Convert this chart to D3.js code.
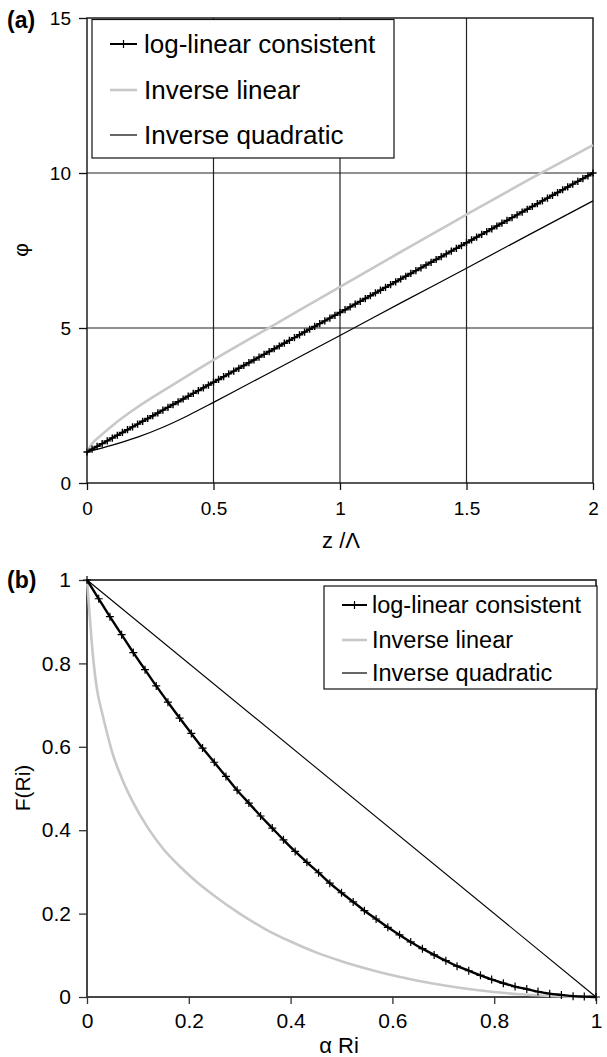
<!DOCTYPE html>
<html>
<head>
<meta charset="utf-8">
<script src="https://cdn.jsdelivr.net/npm/d3@7"></script>
<style>
body { margin: 0; background: #fff; }
svg { font-family: "Liberation Sans", Arial, sans-serif; }
</style>
</head>
<body>
<div id="chart"></div>
<script>
var seriesNames = ["log-linear consistent", "Inverse linear", "Inverse quadratic"];

// panel (a): phi against z / Lambda
var zTicks = [0, 0.5, 1, 1.5, 2];
var phiTicks = [0, 5, 10, 15];

var zLogLin = [0.00, 0.02, 0.04, 0.06, 0.08, 0.10, 0.12, 0.14, 0.16, 0.18,
    0.20, 0.22, 0.24, 0.26, 0.28, 0.30, 0.32, 0.34, 0.36, 0.38,
    0.40, 0.42, 0.44, 0.46, 0.48, 0.50, 0.52, 0.54, 0.56, 0.58,
    0.60, 0.62, 0.64, 0.66, 0.68, 0.70, 0.72, 0.74, 0.76, 0.78,
    0.80, 0.82, 0.84, 0.86, 0.88, 0.90, 0.92, 0.94, 0.96, 0.98,
    1.00, 1.02, 1.04, 1.06, 1.08, 1.10, 1.12, 1.14, 1.16, 1.18,
    1.20, 1.22, 1.24, 1.26, 1.28, 1.30, 1.32, 1.34, 1.36, 1.38,
    1.40, 1.42, 1.44, 1.46, 1.48, 1.50, 1.52, 1.54, 1.56, 1.58,
    1.60, 1.62, 1.64, 1.66, 1.68, 1.70, 1.72, 1.74, 1.76, 1.78,
    1.80, 1.82, 1.84, 1.86, 1.88, 1.90, 1.92, 1.94, 1.96, 1.98, 2.00];
var phiLogLin = [1.00, 1.09, 1.18, 1.27, 1.36, 1.45, 1.54, 1.63, 1.72, 1.81,
    1.90, 1.99, 2.08, 2.17, 2.26, 2.35, 2.44, 2.53, 2.62, 2.71,
    2.80, 2.89, 2.98, 3.07, 3.16, 3.25, 3.34, 3.43, 3.52, 3.61,
    3.70, 3.79, 3.88, 3.97, 4.06, 4.15, 4.24, 4.33, 4.42, 4.51,
    4.60, 4.69, 4.78, 4.87, 4.96, 5.05, 5.14, 5.23, 5.32, 5.41,
    5.50, 5.59, 5.68, 5.77, 5.86, 5.95, 6.04, 6.13, 6.22, 6.31,
    6.40, 6.49, 6.58, 6.67, 6.76, 6.85, 6.94, 7.03, 7.12, 7.21,
    7.30, 7.39, 7.48, 7.57, 7.66, 7.75, 7.84, 7.93, 8.02, 8.11,
    8.20, 8.29, 8.38, 8.47, 8.56, 8.65, 8.74, 8.83, 8.92, 9.01,
    9.10, 9.19, 9.28, 9.37, 9.46, 9.55, 9.64, 9.73, 9.82, 9.91, 10.00];

var zInvLin = [0, 0.01, 0.02, 0.05, 0.1, 0.2, 0.3, 0.4, 0.5, 0.75, 1.0, 1.25, 1.5, 1.75, 2.0];
var phiInvLin = [1.0, 1.15, 1.27, 1.5, 1.85, 2.45, 2.97, 3.47, 3.97, 5.15, 6.33, 7.5, 8.66, 9.8, 10.9];

var zInvQuad = [0, 0.1, 0.2, 0.3, 0.4, 0.5, 0.6, 0.75, 1.0, 1.25, 1.5, 1.75, 2.0];
var phiInvQuad = [1.0, 1.22, 1.48, 1.8, 2.18, 2.6, 3.03, 3.68, 4.76, 5.85, 6.93, 8.02, 9.1];

// panel (b): F(Ri) against alpha Ri
var riTicks = [0, 0.2, 0.4, 0.6, 0.8, 1];
var fTicks = [0, 0.2, 0.4, 0.6, 0.8, 1];

var riLogLin = [0.000, 0.023, 0.045, 0.068, 0.091, 0.114, 0.136, 0.159, 0.182, 0.205,
    0.227, 0.250, 0.273, 0.295, 0.318, 0.341, 0.364, 0.386, 0.409, 0.432,
    0.455, 0.477, 0.500, 0.523, 0.545, 0.568, 0.591, 0.614, 0.636, 0.659,
    0.682, 0.705, 0.727, 0.750, 0.773, 0.795, 0.818, 0.841, 0.864, 0.886,
    0.909, 0.932, 0.955, 0.977, 1.000];
var fLogLin = [1.000, 0.955, 0.912, 0.869, 0.826, 0.785, 0.746, 0.707, 0.669, 0.632,
    0.597, 0.563, 0.529, 0.496, 0.465, 0.434, 0.405, 0.377, 0.349, 0.323,
    0.298, 0.273, 0.250, 0.228, 0.207, 0.187, 0.167, 0.149, 0.132, 0.116,
    0.101, 0.087, 0.074, 0.063, 0.052, 0.042, 0.033, 0.025, 0.019, 0.013,
    0.008, 0.005, 0.002, 0.001, 0.000];

var riInvLin = [0, 0.005, 0.01, 0.015, 0.02, 0.03, 0.04, 0.05, 0.07, 0.09, 0.12, 0.15, 0.18, 0.21,
    0.25, 0.30, 0.35, 0.40, 0.45, 0.50, 0.55, 0.60, 0.65, 0.70, 0.75, 0.80, 0.85, 0.90, 0.95, 1.00];
var fInvLin = [1, 0.92, 0.84, 0.78, 0.735, 0.68, 0.63, 0.585, 0.52, 0.468, 0.405, 0.355, 0.316, 0.282,
    0.243, 0.200, 0.163, 0.133, 0.107, 0.086, 0.068, 0.052, 0.039, 0.028, 0.019, 0.012, 0.0065, 0.003, 0.0008, 0];

var riInvQuad = [0, 1];
var fInvQuad = [1, 0];

var svg = d3.select("#chart").append("svg")
    .attr("width", 607)
    .attr("height", 1057);

function zip(xs, ys) {
    return xs.map(function(x, i) { return [x, ys[i]]; });
}

function drawPanel(cfg) {
    var g = svg.append("g");
    var x = d3.scaleLinear().domain(cfg.xDomain).range([cfg.left, cfg.right]);
    var y = d3.scaleLinear().domain(cfg.yDomain).range([cfg.bottom, cfg.top]);

    if (cfg.grid) {
        g.selectAll("line.vgrid")
            .data(cfg.xTicks.slice(1, -1))
            .enter().append("line")
            .attr("x1", function(d) { return x(d); })
            .attr("x2", function(d) { return x(d); })
            .attr("y1", cfg.top).attr("y2", cfg.bottom)
            .attr("stroke", "#222").attr("stroke-width", 1.2);
        g.selectAll("line.hgrid")
            .data(cfg.yTicks.slice(1, -1))
            .enter().append("line")
            .attr("x1", cfg.left).attr("x2", cfg.right)
            .attr("y1", function(d) { return y(d); })
            .attr("y2", function(d) { return y(d); })
            .attr("stroke", "#222").attr("stroke-width", 1.2);
    }

    // frame
    g.append("rect")
        .attr("x", cfg.left).attr("y", cfg.top)
        .attr("width", cfg.right - cfg.left)
        .attr("height", cfg.bottom - cfg.top)
        .attr("fill", "none")
        .attr("stroke", cfg.frameColor)
        .attr("stroke-width", cfg.frameWidth);

    var yAxis = d3.axisLeft(y)
        .tickValues(cfg.yTicks)
        .tickFormat(d3.format(""))
        .tickSizeInner(8).tickSizeOuter(0)
        .tickPadding(8);
    var xAxis = d3.axisBottom(x)
        .tickValues(cfg.xTicks)
        .tickFormat(d3.format(""))
        .tickSizeInner(7).tickSizeOuter(0)
        .tickPadding(cfg.xPad);

    var ya = g.append("g").attr("transform", "translate(" + cfg.left + ",0)").call(yAxis);
    var xa = g.append("g").attr("transform", "translate(0," + cfg.bottom + ")").call(xAxis);
    [ya, xa].forEach(function(a) {
        a.select(".domain").remove();
        a.selectAll("line").attr("stroke", cfg.frameColor).attr("stroke-width", 1.3);
        a.selectAll("text")
            .attr("fill", "#000")
            .style("font-family", '"Liberation Sans", Arial, sans-serif')
            .style("font-size", cfg.tickFont + "px");
    });

    return { g: g, x: x, y: y };
}

function plusPath(s) {
    return "M" + (-s) + ",0H" + s + "M0," + (-s) + "V" + s;
}

function drawLegend(cfg, styles) {
    var lg = svg.append("g");
    lg.append("rect")
        .attr("x", cfg.x).attr("y", cfg.y)
        .attr("width", cfg.w).attr("height", cfg.h)
        .attr("fill", "#fff").attr("stroke", "#111").attr("stroke-width", 1.2);
    seriesNames.forEach(function(name, i) {
        var yy = cfg.rows[i];
        var st = styles[i];
        lg.append("line")
            .attr("x1", cfg.lx1).attr("x2", cfg.lx2)
            .attr("y1", yy).attr("y2", yy)
            .attr("stroke", st.color).attr("stroke-width", st.width);
        if (st.marker) {
            lg.append("path")
                .attr("d", plusPath(st.marker))
                .attr("transform", "translate(" + ((cfg.lx1 + cfg.lx2) / 2) + "," + yy + ")")
                .attr("stroke", st.color).attr("stroke-width", 1.2);
        }
        lg.append("text")
            .attr("x", cfg.tx).attr("y", yy)
            .attr("dy", "0.36em")
            .style("font-size", cfg.font + "px")
            .text(name);
    });
}

function drawSeries(p, pts, color, width, marker, markerWidth) {
    var line = d3.line()
        .x(function(d) { return p.x(d[0]); })
        .y(function(d) { return p.y(d[1]); })
        .curve(d3.curveMonotoneX);
    p.g.append("path")
        .datum(pts)
        .attr("d", line)
        .attr("fill", "none")
        .attr("stroke", color)
        .attr("stroke-width", width);
    if (marker) {
        p.g.selectAll(null)
            .data(pts)
            .enter().append("path")
            .attr("d", plusPath(marker))
            .attr("transform", function(d) { return "translate(" + p.x(d[0]) + "," + p.y(d[1]) + ")"; })
            .attr("stroke", color)
            .attr("stroke-width", markerWidth);
    }
}

// ---- panel (a)
var pa = drawPanel({
    left: 87, right: 593, top: 18, bottom: 483,
    xDomain: [0, 2], yDomain: [0, 15],
    xTicks: zTicks, yTicks: phiTicks,
    grid: true, frameColor: "#111", frameWidth: 1.4,
    tickFont: 19, xPad: 12
});
drawSeries(pa, zip(zInvLin, phiInvLin), "#c8c8c8", 2.6);
drawSeries(pa, zip(zInvQuad, phiInvQuad), "#000", 1.2);
drawSeries(pa, zip(zLogLin, phiLogLin), "#000", 2.2, 3.6, 1.4);

drawLegend({
    x: 92, y: 19.5, w: 302, h: 138.5,
    rows: [44, 90, 135], lx1: 110, lx2: 137, tx: 144, font: 26
}, [
    { color: "#000", width: 2, marker: 4 },
    { color: "#c8c8c8", width: 2.6 },
    { color: "#000", width: 1.2 }
]);

svg.append("text").attr("x", 7).attr("y", 28)
    .style("font-size", "23px").style("font-weight", "bold").text("(a)");
svg.append("text").attr("x", 341).attr("y", 548)
    .attr("text-anchor", "middle").style("font-size", "22px").text("z /Λ");
svg.append("text")
    .attr("transform", "translate(28,250) rotate(-90)")
    .attr("text-anchor", "middle").style("font-size", "21px").text("φ");

// ---- panel (b)
var pb = drawPanel({
    left: 87, right: 596, top: 580, bottom: 997,
    xDomain: [0, 1], yDomain: [0, 1],
    xTicks: riTicks, yTicks: fTicks,
    grid: false, frameColor: "#333", frameWidth: 1.8,
    tickFont: 21, xPad: 9
});
drawSeries(pb, zip(riInvLin, fInvLin), "#c8c8c8", 2.6);
drawSeries(pb, zip(riInvQuad, fInvQuad), "#000", 1.1);
drawSeries(pb, zip(riLogLin, fLogLin), "#000", 2.4, 4, 1.2);

drawLegend({
    x: 324, y: 586, w: 273, h: 103,
    rows: [605, 640, 673], lx1: 342, lx2: 367, tx: 372, font: 23.5
}, [
    { color: "#000", width: 2, marker: 4 },
    { color: "#c8c8c8", width: 2.6 },
    { color: "#000", width: 1.2 }
]);

svg.append("text").attr("x", 7).attr("y", 588)
    .style("font-size", "23px").style("font-weight", "bold").text("(b)");
svg.append("text").attr("x", 339).attr("y", 1053)
    .attr("text-anchor", "middle").style("font-size", "22px").text("α Ri");
svg.append("text")
    .attr("transform", "translate(30,788) rotate(-90)")
    .attr("text-anchor", "middle").style("font-size", "21px").text("F(Ri)");
</script>
</body>
</html>
